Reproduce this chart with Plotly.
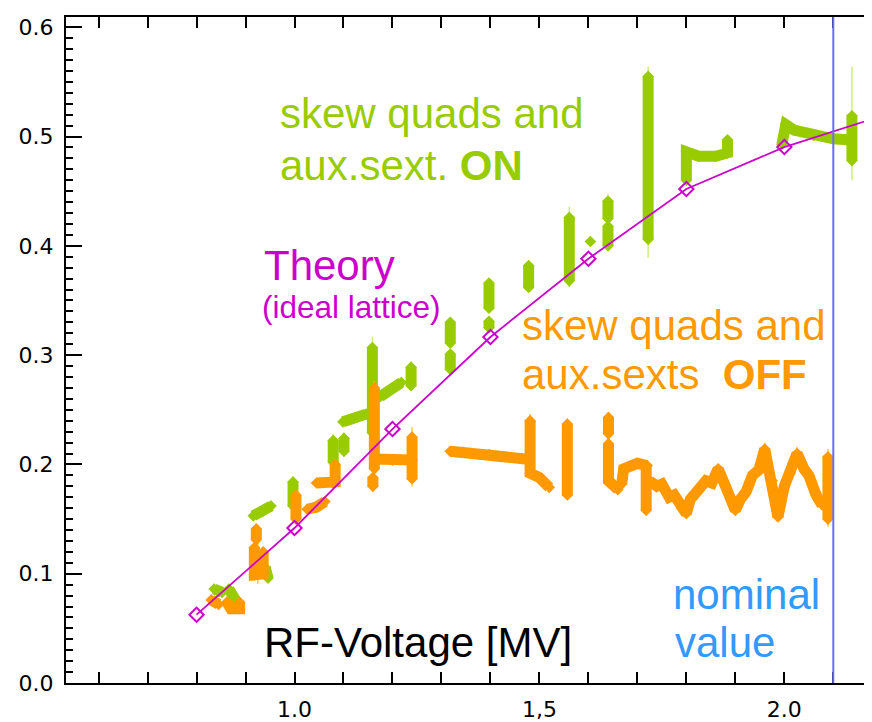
import plotly.graph_objects as go

# ---------------- data ----------------
# Theory (ideal lattice)
th_x = [0.8, 1.0, 1.2, 1.4, 1.6, 1.8, 2.0, 2.2]
th_y = [0.0625, 0.1418, 0.2324, 0.3166, 0.3882, 0.452, 0.4904, 0.519]

# skew quads and aux. sextupoles ON (green); None separates measurement runs
on_x = [0.836, 0.852, None,
        0.866, 0.875, 0.882, None,
        0.916, 0.935, 0.952, None,
        0.940, 0.946, None,
        0.997, 0.997, None,
        1.079, 1.079, None,
        1.101, 1.101, None,
        1.099, 1.120, 1.146, None,
        1.159, 1.159, None,
        1.175, 1.200, 1.218, None,
        1.238, 1.238, None,
        1.318, 1.318, None,
        1.318, 1.318, None,
        1.397, 1.397, None,
        1.397, 1.397, None,
        1.478, 1.478, None,
        1.561, 1.561, None,
        1.604, None,
        1.640, 1.640, None,
        1.640, 1.640, None,
        1.722, 1.722, None,
        1.800, 1.800, 1.825, 1.860, 1.884, 1.884, None,
        1.995, 2.003, 2.020, 2.060, 2.100, 2.130, None,
        2.138, 2.138]
on_y = [0.086, 0.083, None,
        0.086, 0.078, 0.074, None,
        0.153, 0.157, 0.162, None,
        0.106, 0.096, None,
        0.184, 0.162, None,
        0.222, 0.202, None,
        0.224, 0.212, None,
        0.239, 0.242, 0.246, None,
        0.307, 0.229, None,
        0.262, 0.270, 0.275, None,
        0.289, 0.272, None,
        0.330, 0.311, None,
        0.301, 0.287, None,
        0.366, 0.343, None,
        0.331, 0.325, None,
        0.382, 0.362, None,
        0.426, 0.368, None,
        0.404, None,
        0.441, 0.425, None,
        0.418, 0.400, None,
        0.555, 0.406, None,
        0.460, 0.486, 0.482, 0.482, 0.485, 0.497, None,
        0.493, 0.511, 0.506, 0.501, 0.498, 0.497, None,
        0.519, 0.478]
# error bars (x, lower end, upper end)
on_err_x = [0.946, 0.997, 1.079, 1.159, 1.238, 1.561, 1.640, 1.722, 2.138]
on_err_lo = [0.092, 0.160, 0.198, 0.225, 0.268, 0.362, 0.395, 0.389, 0.460]
on_err_hi = [0.100, 0.189, 0.228, 0.317, 0.294, 0.436, 0.447, 0.564, 0.564]

# skew quads and aux. sextupoles OFF (orange)
off_x = [0.830, 0.845, None,
         0.862, 0.870, 0.888, 0.888, None,
         0.922, 0.922, None,
         0.918, 0.918, 0.936, 0.936, None,
         1.003, 1.003, None,
         1.026, 1.045, 1.062, None,
         1.045, 1.078, 1.083, 1.083, None,
         1.163, 1.163, None,
         1.160, 1.160, None,
         1.163, 1.200, 1.240, None,
         1.240, 1.240, None,
         1.318, 1.345, 1.398, 1.420, 1.472, None,
         1.481, 1.481, 1.500, 1.520, None,
         1.557, 1.557, None,
         1.641, 1.641, None,
         1.641, 1.641, 1.660, None,
         1.668, 1.672, 1.700, 1.720, None,
         1.718, 1.718, None,
         1.725, 1.740, 1.750, 1.765, 1.775, 1.790, 1.800, 1.808, 1.825, 1.840,
         1.852, 1.865, 1.880, 1.900, 1.910, 1.922, 1.935, 1.948, 1.960, 1.975,
         1.987, 2.000, 2.012, 2.026, 2.040, 2.050, 2.065, 2.077, None,
         2.089, 2.089]
off_y = [0.076, 0.072, None,
         0.074, 0.068, 0.068, 0.074, None,
         0.141, 0.131, None,
         0.124, 0.099, 0.100, 0.120, None,
         0.172, 0.150, None,
         0.159, 0.161, 0.166, None,
         0.183, 0.183, 0.184, 0.200, None,
         0.270, 0.196, None,
         0.188, 0.180, None,
         0.205, 0.204, 0.204, None,
         0.225, 0.187, None,
         0.212, 0.211, 0.209, 0.207, 0.205, None,
         0.240, 0.192, 0.188, 0.179, None,
         0.237, 0.172, None,
         0.243, 0.228, None,
         0.219, 0.185, 0.177, None,
         0.182, 0.196, 0.201, 0.199, None,
         0.199, 0.158, None,
         0.185, 0.180, 0.182, 0.170, 0.172, 0.160, 0.155, 0.168, 0.176, 0.185,
         0.183, 0.196, 0.180, 0.158, 0.168, 0.175, 0.190, 0.195, 0.214, 0.185,
         0.152, 0.180, 0.192, 0.210, 0.196, 0.190, 0.172, 0.163, None,
         0.207, 0.150]
off_err_x = [0.925, 1.163, 1.240, 1.481, 1.557, 1.641, 1.960, 2.026, 2.089]
off_err_lo = [0.091, 0.195, 0.180, 0.188, 0.168, 0.182, 0.205, 0.205, 0.143]
off_err_hi = [0.145, 0.276, 0.234, 0.246, 0.242, 0.248, 0.220, 0.216, 0.214]

nominal_voltage = 2.1

y_ticks = [0.0, 0.1, 0.2, 0.3, 0.4, 0.5, 0.6]
y_ticktext = ["0.0", "0.1", "0.2", "0.3", "0.4", "0.5", "0.6"]
x_ticks = [1.0, 1.5, 2.0]
x_ticktext = ["1.0", "1,5", "2.0"]

# ---------------- styling ----------------
GREEN = "#99CC00"
GREEN_ERR = "#CCF07C"
ORANGE = "#FF9900"
ORANGE_ERR = "#FFC826"
MAGENTA = "#CC00CC"
BLUE_TXT = "#3399FF"
NOMINAL = "#6B6BFF"
TXT_FONT = "Liberation Sans, Arial, sans-serif"
TICK_FONT = "DejaVu Sans, sans-serif"


def bars(xs, lo, hi):
    bx, by = [], []
    for x, a, b in zip(xs, lo, hi):
        bx += [x, x, None]
        by += [a, b, None]
    return bx, by


fig = go.Figure()

gx, gy = bars(on_err_x, on_err_lo, on_err_hi)
fig.add_trace(go.Scatter(x=gx, y=gy, mode="lines", line=dict(color=GREEN_ERR, width=1.5),
                         hoverinfo="skip", showlegend=False))
fig.add_trace(go.Scatter(x=on_x, y=on_y, mode="lines+markers", connectgaps=False,
                         line=dict(color=GREEN, width=11),
                         marker=dict(symbol="diamond", size=9, color=GREEN),
                         name="ON", showlegend=False))
ox, oy = bars(off_err_x, off_err_lo, off_err_hi)
fig.add_trace(go.Scatter(x=ox, y=oy, mode="lines", line=dict(color=ORANGE_ERR, width=1.5),
                         hoverinfo="skip", showlegend=False))
fig.add_trace(go.Scatter(x=off_x, y=off_y, mode="lines+markers", connectgaps=False,
                         line=dict(color=ORANGE, width=11),
                         marker=dict(symbol="diamond", size=9, color=ORANGE),
                         name="OFF", showlegend=False))
fig.add_trace(go.Scatter(x=th_x, y=th_y, mode="lines+markers",
                         line=dict(color=MAGENTA, width=1.8),
                         marker=dict(symbol="diamond-open", size=11, color=MAGENTA,
                                     line=dict(width=2, color=MAGENTA)),
                         name="Theory", showlegend=False))
# invisible trace to carry the right-hand tick axis
fig.add_trace(go.Scatter(x=th_x, y=th_y, yaxis="y2", mode="lines",
                         line=dict(width=0, color="rgba(0,0,0,0)"),
                         hoverinfo="skip", showlegend=False))

fig.add_shape(type="line", xref="x", yref="paper", x0=nominal_voltage, x1=nominal_voltage,
              y0=0, y1=1, line=dict(color=NOMINAL, width=2), layer="above")

ann = [
    ("skew quads and", 0.967, 0.5211, GREEN, 42),
    ("aux.sext. <b>ON</b>", 0.967, 0.4738, GREEN, 42),
    ("Theory", 0.933, 0.3823, MAGENTA, 42),
    ("(ideal lattice)", 0.930, 0.3442, MAGENTA, 31.5),
    ("skew quads and", 1.4606, 0.3274, ORANGE, 42),
    ("aux.sexts&nbsp; <b>OFF</b>", 1.4606, 0.2822, ORANGE, 42),
    ("RF-Voltage [MV]", 0.934, 0.0368, "black", 42),
    ("nominal", 1.7687, 0.0811, BLUE_TXT, 42),
    ("value", 1.772, 0.0368, BLUE_TXT, 42),
]
for text, x, y, col, size in ann:
    fig.add_annotation(x=x, y=y, xref="x", yref="y", text=text, showarrow=False,
                       xanchor="left", yanchor="middle",
                       font=dict(family=TXT_FONT, size=size, color=col))

# the page body has an 8px margin, so the figure is shifted by (8, 8)
fig.update_layout(
    width=872, height=722,
    margin=dict(l=58, r=8, t=9, b=47, pad=0, autoexpand=False),
    paper_bgcolor="white", plot_bgcolor="white",
    showlegend=False,
    xaxis=dict(range=[0.5335, 2.179], tickvals=x_ticks, ticktext=x_ticktext,
               automargin=False,
               ticks="inside", ticklen=11, tickwidth=2, tickcolor="black",
               showline=True, linewidth=2, linecolor="black", mirror="allticks",
               showgrid=False, zeroline=False,
               tickfont=dict(family=TICK_FONT, size=22, color="black"),
               ticklabelstandoff=6,
               minor=dict(dtick=0.1, tick0=0, ticks="inside", ticklen=6, tickwidth=1.5,
                          tickcolor="black", showgrid=False)),
    yaxis=dict(range=[0, 0.6094], tickvals=y_ticks, ticktext=y_ticktext,
               automargin=False,
               ticks="inside", ticklen=16, tickwidth=2, tickcolor="black",
               showline=True, linewidth=2, linecolor="black", mirror=False,
               showgrid=False, zeroline=False,
               tickfont=dict(family=TICK_FONT, size=22, color="black"),
               ticklabelstandoff=6,
               minor=dict(dtick=0.01, tick0=0, ticks="inside", ticklen=7, tickwidth=1.5,
                          tickcolor="black", showgrid=False)),
    yaxis2=dict(range=[0, 0.6094], overlaying="y", side="right", automargin=False,
                tickvals=[0.1, 0.2, 0.3, 0.4, 0.5, 0.6],
                ticks="inside", ticklen=7, tickwidth=2, tickcolor="black",
                showticklabels=False, showline=False, showgrid=False, zeroline=False),
)

fig.write_html("out.html")
